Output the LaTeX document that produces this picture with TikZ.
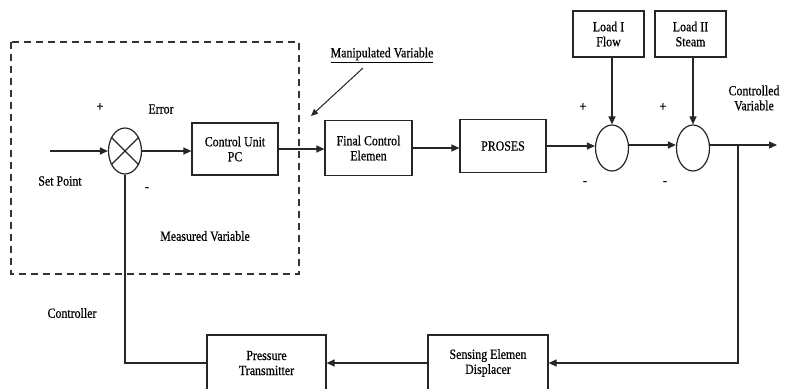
\documentclass[tikz,border=0pt]{standalone}
\usepackage{fontspec}
\setmainfont{Liberation Serif}[FakeStretch=0.85,FakeBold=0.6]
\usepackage{tikz}
\usetikzlibrary{arrows.meta,shapes.geometric}
\tikzset{
  block/.style={draw=black!85, line width=1.2pt, align=center, inner sep=1pt},
  junction/.style={draw=black!85, line width=1.2pt, ellipse, minimum width=33pt, minimum height=46pt, inner sep=0pt},
  flow/.style={-{Triangle[length=8pt,width=7pt]}, line width=1.2pt, draw=black!85},
  wire/.style={line width=1.2pt, draw=black!85},
  frame/.style={draw=black!80, line width=1.3pt, dash pattern=on 7pt off 5pt},
  note/.style={align=center, font=\fontsize{14}{15}\selectfont},
  sign/.style={font=\fontsize{14}{15}\selectfont}
}

\begin{document}
\begin{tikzpicture}[x=1pt, y=-1pt, font=\fontsize{14}{15}\selectfont]
  \useasboundingbox (0,0) rectangle (789,388);
  \clip (0,0) rectangle (789,388);

  % controller frame
  \draw[frame] (11,42) rectangle (299,274);

  % forward path
  \node[junction] (sum) at (125,151) {};
  \draw[wire] (sum.45) -- (sum.225) (sum.135) -- (sum.315);
  \node[block, minimum width=86pt, minimum height=52pt] (ctrl) at (235,149) {Control Unit\\PC};
  \node[block, minimum width=87pt, minimum height=55pt] (fce) at (368.5,148) {Final Control\\Elemen};
  \node[block, minimum width=86pt, minimum height=53pt] (proses) at (503,146) {PROSES};
  \node[junction] (sumA) at (612,148) {};
  \node[junction] (sumB) at (693,148) {};
  \node[block, minimum width=71pt, minimum height=46pt] (loadA) at (608.5,34) {Load I\\Flow};
  \node[block, minimum width=71pt, minimum height=46pt] (loadB) at (690.5,34) {Load II\\Steam};

  % feedback path
  \node[block, minimum width=120pt, minimum height=56pt] (sense) at (488,363) {Sensing Elemen\\Displacer};
  \node[block, minimum width=119pt, minimum height=56pt] (press) at (266.5,363) {Pressure\\Transmitter};

  \coordinate (in) at (50,151);
  \coordinate (out) at (777,145);
  \coordinate (branch) at (738,145);

  \draw[flow] (in) -- (sum.west);
  \draw[flow] (sum.east) -- (sum.east -| ctrl.west);
  \draw[flow] (ctrl.east) -- (ctrl.east -| fce.west);
  \draw[flow] (fce.east) -- (fce.east -| proses.west);
  \draw[flow] (proses.east) -- (proses.east -| sumA.west);
  \draw[flow] (sumA.east |- 0,145) -- (sumB.west |- 0,145);
  \draw[flow] (sumB.east |- 0,145) -- (out);
  \draw[flow] (sumA.north |- loadA.south) -- (sumA.north);
  \draw[flow] (sumB.north |- loadB.south) -- (sumB.north);
  \draw[flow] (branch) |- (sense.east);
  \draw[flow] (sense.west) -- (press.east);
  \draw[wire] (press.west) -| (sum.south);

  % manipulated variable pointer
  \node[note] (manip) at (382,55) {\underline{Manipulated Variable}};
  \coordinate (manipTip) at (311,116);
  \draw[flow, -{Triangle[length=7pt,width=6pt]}, line width=1pt] (363,68) -- (manipTip);

  % labels
  \node[note] (setpt) at (60,181) {Set Point};
  \node[note] (err) at (161,109) {Error};
  \node[note] (meas) at (205,236) {Measured Variable};
  \node[note] (contr) at (72,313) {Controller};
  \node[note] (cvar) at (754,98) {Controlled\\Variable};
  \node[sign] (p0) at (100,107) {+};
  \node[sign] (m0) at (147,189) {-};
  \node[sign] (p1) at (583,107) {+};
  \node[sign] (m1) at (585,183) {-};
  \node[sign] (p2) at (663,107) {+};
  \node[sign] (m2) at (665,183) {-};
\end{tikzpicture}
\end{document}
